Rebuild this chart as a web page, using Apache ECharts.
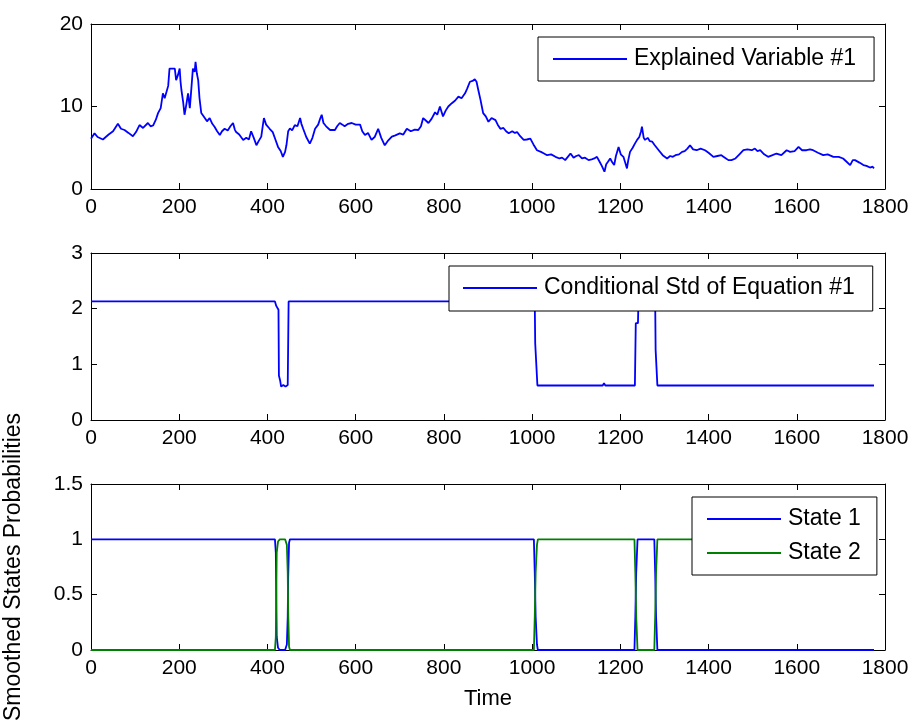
<!DOCTYPE html>
<html>
<head>
<meta charset="utf-8">
<script src="https://cdn.jsdelivr.net/npm/echarts@6/dist/echarts.min.js"></script>
<style>html,body{margin:0;padding:0;background:#fff}#c{width:912px;height:725px}</style>
</head>
<body>
<div id="c"></div>
<script>
// ---- Data ----
const xTicks = [0, 200, 400, 600, 800, 1000, 1200, 1400, 1600, 1800];
const explainedVar = [
[0,6.1],[8,6.75],[15,6.3],[27,6.0],[40,6.6],[50,7.0],[61,7.9],[68,7.3],[76,7.15],[85,6.8],[95,6.4],[102,6.9],[110,7.75],[118,7.4],[129,8.0],[135,7.6],[141,7.7],[147,8.4],[152,9.2],[158,9.8],[163,11.6],[167,11.0],[171,11.0],[175,12.5],[178,14.6],[190,14.6],[193,13.2],[197,13.8],[201,14.6],[203,13.0],[205,12.0],[209,10.5],[212,9.0],[216,10.2],[220,11.6],[224,9.8],[228,12.5],[231,14.6],[235,14.2],[237,15.4],[240,14.0],[243,13.2],[246,11.0],[250,9.2],[258,8.6],[263,8.2],[269,8.6],[275,7.9],[280,7.55],[286,7.0],[292,6.55],[297,7.0],[303,7.3],[310,7.1],[316,7.6],[322,8.0],[326,7.2],[329,6.9],[336,6.6],[345,5.95],[352,6.2],[358,6.0],[363,7.0],[369,6.2],[375,5.3],[380,5.8],[386,6.35],[389,7.5],[392,8.6],[397,7.8],[401,7.6],[405,7.3],[412,6.9],[418,6.0],[424,5.1],[430,4.6],[435,3.9],[440,4.5],[443,5.3],[447,7.0],[451,7.35],[456,7.1],[462,7.75],[468,7.6],[474,8.6],[477,7.9],[481,7.3],[488,6.3],[496,5.5],[502,6.2],[508,7.3],[515,7.8],[520,8.6],[523,9.0],[527,8.0],[533,7.6],[542,7.15],[553,7.15],[558,7.6],[564,8.0],[570,7.8],[575,7.6],[583,7.9],[591,8.0],[600,7.8],[610,7.8],[615,7.0],[621,6.55],[628,6.8],[636,5.95],[643,6.3],[651,7.3],[658,6.2],[666,5.3],[674,5.9],[682,6.35],[690,6.5],[700,6.75],[708,6.6],[716,7.3],[725,7.0],[734,7.2],[742,7.15],[748,7.6],[753,8.6],[759,8.3],[765,8.0],[772,8.5],[780,9.3],[785,9.0],[791,10.0],[798,8.8],[804,9.5],[810,10.0],[818,10.4],[825,10.7],[833,11.2],[840,11.0],[848,11.6],[853,12.2],[859,13.0],[865,13.1],[870,13.3],[874,13.0],[878,12.0],[883,10.8],[886,10.0],[889,9.2],[895,8.8],[901,8.15],[908,8.6],[917,8.35],[922,7.8],[928,7.3],[935,7.4],[941,7.0],[947,6.75],[955,7.0],[961,6.8],[966,6.9],[973,6.4],[981,5.95],[988,6.0],[996,6.1],[1003,5.4],[1011,4.7],[1020,4.5],[1027,4.3],[1034,4.1],[1043,4.2],[1053,3.9],[1062,3.7],[1068,3.8],[1075,3.5],[1081,3.9],[1087,4.3],[1094,3.8],[1100,4.0],[1106,4.1],[1113,3.7],[1120,3.8],[1128,3.5],[1135,3.6],[1141,3.7],[1147,3.9],[1153,3.3],[1158,2.8],[1164,2.1],[1168,3.0],[1172,3.3],[1177,3.7],[1182,3.2],[1186,2.9],[1190,4.0],[1196,5.1],[1201,4.2],[1207,3.9],[1211,3.2],[1215,2.5],[1218,3.5],[1222,4.5],[1228,5.0],[1233,5.5],[1238,5.95],[1243,6.3],[1247,7.0],[1249,7.55],[1253,6.2],[1256,5.95],[1262,6.2],[1267,5.8],[1272,5.75],[1278,5.3],[1287,4.7],[1296,4.1],[1306,3.7],[1313,4.0],[1319,3.9],[1325,4.1],[1333,4.2],[1340,4.5],[1346,4.6],[1352,4.9],[1358,5.3],[1365,4.8],[1373,4.7],[1382,4.9],[1392,4.7],[1400,4.4],[1411,3.9],[1420,4.0],[1429,4.1],[1437,3.8],[1445,3.5],[1452,3.5],[1461,3.7],[1470,4.2],[1479,4.7],[1488,4.8],[1498,4.7],[1505,4.9],[1511,4.6],[1517,4.7],[1526,4.2],[1535,3.9],[1545,4.1],[1554,4.3],[1565,4.1],[1577,4.7],[1585,4.5],[1595,4.6],[1604,5.1],[1612,4.7],[1622,4.7],[1630,4.8],[1637,4.7],[1648,4.4],[1660,4.1],[1670,4.2],[1683,3.9],[1695,3.9],[1705,3.7],[1713,3.3],[1721,2.9],[1727,3.5],[1732,3.5],[1742,3.2],[1751,2.9],[1758,2.8],[1766,2.6],[1772,2.7],[1775,2.5]
];
const condStd = [
[0,2.13],[417,2.13],[420,2.05],[425,1.98],[426,0.8],[429,0.7],[431,0.6],[436,0.63],[441,0.6],[446,0.63],[448,2.13],[1006,2.13],[1007,1.38],[1011,1.38],[1012,0.62],[1160,0.62],[1163,0.66],[1166,0.62],[1233,0.62],[1235,1.74],[1240,1.74],[1241,2.13],[1279,2.13],[1280,1.26],[1283,1.26],[1284,0.62],[1775,0.62]
];
const state1 = [
[0,1],[417,1],[419,0.88],[421,0.12],[424,0.02],[428,0],[440,0],[444,0.05],[446,0.3],[447,0.65],[449,0.97],[451,1],[1004,1],[1006,0.7],[1008,0.3],[1011,0.05],[1013,0],[1232,0],[1234,0.3],[1236,0.7],[1239,1],[1277,1],[1279,0.7],[1281,0.3],[1284,0],[1775,0]
];
const state2 = [
[0,0],[417,0],[419,0.12],[421,0.88],[424,0.98],[428,1],[440,1],[444,0.95],[446,0.7],[447,0.35],[449,0.03],[451,0],[1004,0],[1006,0.3],[1008,0.7],[1011,0.95],[1013,1],[1232,1],[1234,0.7],[1236,0.3],[1239,0],[1277,0],[1279,0.3],[1281,0.7],[1284,1],[1775,1]
];
const yRanges = [[0,20,10],[0,3,1],[0,1.5,0.5]];
const names = ['Explained Variable #1','Conditional Std of Equation #1','State 1','State 2'];

// ---- Chart ----
const FONT = "'Liberation Sans', Arial, Helvetica, sans-serif";
const BLUE = '#0000ff', GREEN = '#008000';
const plain = v => String(v);
const grids = [
  {left:91, top:24, width:794, height:165, containLabel:false, outerBoundsMode:'none'},
  {left:91, top:253, width:794, height:167, containLabel:false, outerBoundsMode:'none'},
  {left:91, top:484, width:794, height:166, containLabel:false, outerBoundsMode:'none'}
];
const xAxes = [], yAxes = [];
grids.forEach((g, i) => {
  const common = {type:'value', gridIndex:i, min:xTicks[0], max:xTicks[xTicks.length-1], interval:xTicks[1]-xTicks[0],
    splitLine:{show:false},
    axisLine:{show:true, onZero:false, lineStyle:{color:'#000', width:1}},
    axisTick:{show:true, inside:true, length:6, lineStyle:{color:'#000'}}};
  xAxes.push(Object.assign({}, common, {position:'bottom',
    axisLabel:{show:true, color:'#000', fontFamily:FONT, fontSize:21, margin:8, formatter:plain},
    name: i === 2 ? 'Time' : '', nameLocation:'middle', nameGap:38,
    nameTextStyle:{color:'#000', fontFamily:FONT, fontSize:22}}));
  xAxes.push(Object.assign({}, common, {position:'top', axisLabel:{show:false}}));
  const r = yRanges[i];
  const yc = {type:'value', gridIndex:i, min:r[0], max:r[1], interval:r[2],
    splitLine:{show:false},
    axisLine:{show:true, onZero:false, lineStyle:{color:'#000', width:1}},
    axisTick:{show:true, inside:true, length:6, lineStyle:{color:'#000'}}};
  yAxes.push(Object.assign({}, yc, {position:'left',
    axisLabel:{show:true, color:'#000', fontFamily:FONT, fontSize:21, margin:8, formatter:plain},
    name: i === 2 ? 'Smoothed States Probabilities' : '', nameLocation:'middle', nameRotate:90, nameGap:66,
    nameTextStyle:{color:'#000', fontFamily:FONT, fontSize:23}}));
  yAxes.push(Object.assign({}, yc, {position:'right', axisLabel:{show:false}}));
});

const lineSeries = (name, data, idx, color) => ({
  name, type:'line', data, xAxisIndex:idx*2, yAxisIndex:idx*2,
  showSymbol:false, symbol:'none', animation:false, clip:true,
  lineStyle:{color, width:1.8}, itemStyle:{color}
});

const legendCommon = {
  icon:'rect', itemWidth:74, itemHeight:2, backgroundColor:'#fff',
  borderColor:'#000', borderWidth:1, borderRadius:0, selectedMode:false,
  textStyle:{color:'#000', fontFamily:FONT, fontSize:23, lineHeight:24, padding:[0,0,0,2]}
};

const option = {
  animation:false,
  backgroundColor:'#fff',
  grid: grids,
  xAxis: xAxes,
  yAxis: yAxes,
  legend: [
    Object.assign({}, legendCommon, {data:[names[0]], left:538, top:37, padding:[10,18,10,15]}),
    Object.assign({}, legendCommon, {data:[names[1]], left:449, top:266, padding:[10,18,11,14]}),
    Object.assign({}, legendCommon, {data:[names[2], names[3]], orient:'vertical', left:692, top:497, itemGap:10, padding:[10,16,10,15]})
  ],
  series: [
    lineSeries(names[0], explainedVar, 0, BLUE),
    lineSeries(names[1], condStd, 1, BLUE),
    lineSeries(names[2], state1, 2, BLUE),
    lineSeries(names[3], state2, 2, GREEN)
  ]
};
const chart = echarts.init(document.getElementById('c'), null, {renderer:'canvas'});
chart.setOption(option);
</script>
</body>
</html>
